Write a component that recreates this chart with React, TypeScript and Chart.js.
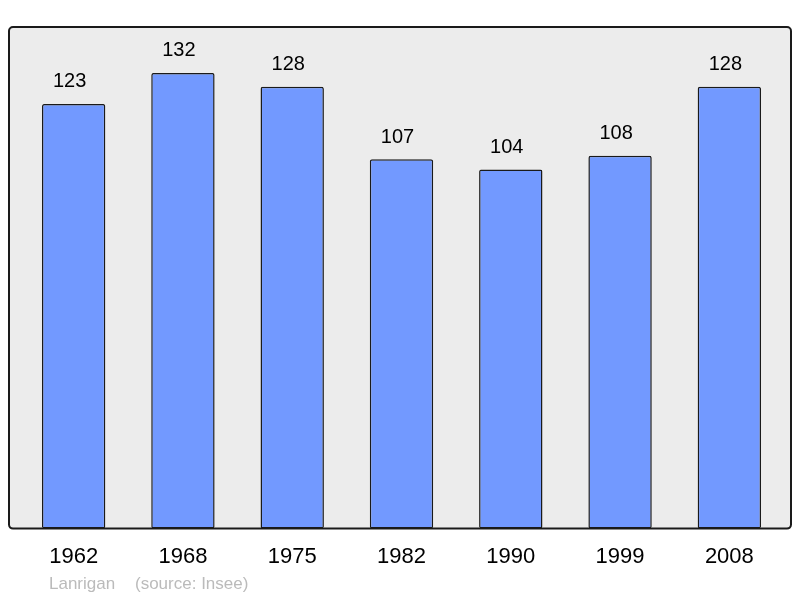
import { useEffect, useRef } from "react";
import { Chart, registerables } from "chart.js";
Chart.register(...registerables);

const years = ["1962", "1968", "1975", "1982", "1990", "1999", "2008"];
const population = [123, 132, 128, 107, 104, 108, 128];
const placeName = "Lanrigan";
const sourceText = "(source: Insee)";

const font = "'Liberation Sans', Arial, sans-serif";

// draws the grey rounded frame behind the bars, a bit wider than the chart area
const framePlugin = {
  id: "frame",
  beforeDatasetsDraw(chart: Chart) {
    const { ctx, chartArea: a } = chart;
    const x = a.left - 10, y = a.top, w = a.right + 7 - x, h = a.bottom - a.top;
    ctx.save();
    ctx.beginPath();
    ctx.roundRect(x, y, w, h, 4);
    ctx.fillStyle = "#ececec";
    ctx.fill();
    ctx.restore();
  },
  afterDatasetsDraw(chart: Chart) {
    const { ctx, chartArea: a } = chart;
    const x = a.left - 10, y = a.top, w = a.right + 7 - x, h = a.bottom - a.top;
    ctx.save();
    ctx.beginPath();
    ctx.roundRect(x, y, w, h, 4);
    ctx.lineWidth = 2;
    ctx.strokeStyle = "#1a1a1a";
    ctx.stroke();
    // value labels
    const meta = chart.getDatasetMeta(0);
    ctx.fillStyle = "#000";
    ctx.font = `20px ${font}`;
    ctx.textAlign = "center";
    ctx.textBaseline = "middle";
    meta.data.forEach((bar: any, i) => {
      ctx.fillText(String(population[i]), bar.x - 4, bar.y - 22);
    });
    // footer
    ctx.fillStyle = "#bbbbbb";
    ctx.font = `17px ${font}`;
    ctx.textAlign = "left";
    ctx.fillText(placeName, 49, 584);
    ctx.fillText(sourceText, 135, 584);
    ctx.restore();
  },
};

export default function App() {
  const ref = useRef<HTMLCanvasElement>(null);

  useEffect(() => {
    document.body.style.margin = "0";
    if (!ref.current) return;
    const chart = new Chart(ref.current, {
      type: "bar",
      data: {
        labels: years,
        datasets: [{
          data: population,
          backgroundColor: "#7299ff",
          borderColor: "#1a1a1a",
          borderWidth: 1.5,
          borderSkipped: false,
          borderRadius: 2,
          barPercentage: 0.58,
          categoryPercentage: 1,
        }],
      },
      options: {
        animation: false,
        responsive: false,
        layout: { padding: { left: 19, right: 16, top: 27, bottom: 21 } },
        plugins: { legend: { display: false }, tooltip: { enabled: false } },
        scales: {
          x: {
            grid: { display: false },
            border: { display: false },
            ticks: { color: "#000", font: { family: font, size: 22 }, padding: 7 },
          },
          y: {
            display: false,
            min: 0,
            max: 145.3,
          },
        },
      },
      plugins: [framePlugin],
    });
    return () => chart.destroy();
  }, []);

  return <canvas ref={ref} width={800} height={598} style={{ display: "block" }} />;
}
